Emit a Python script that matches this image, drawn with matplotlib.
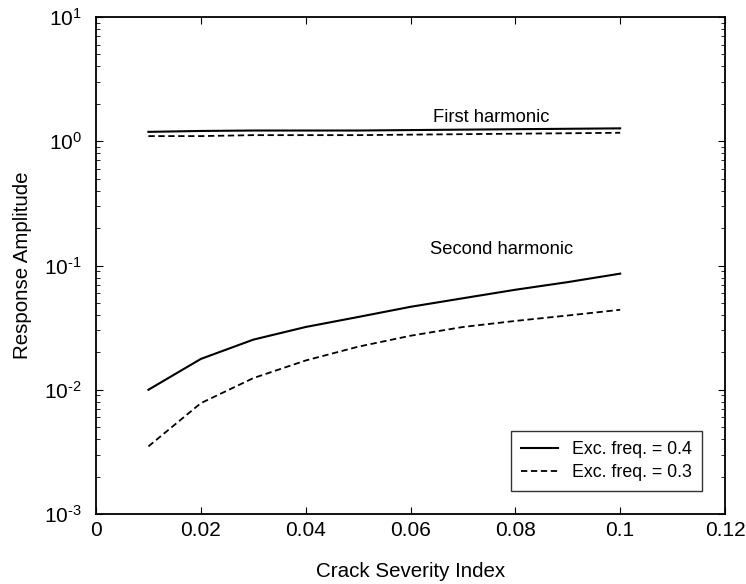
import numpy as np
import matplotlib
matplotlib.use("Agg")
import matplotlib.pyplot as plt
from matplotlib.ticker import FixedLocator, FixedFormatter

plt.rcParams['font.family'] = ['Liberation Sans', 'DejaVu Sans']
plt.rcParams['mathtext.fontset'] = 'custom'
plt.rcParams['mathtext.rm'] = 'Liberation Sans'
plt.rcParams['mathtext.it'] = 'Liberation Sans:italic'

# %% Data

crack = [0.01, 0.02, 0.03, 0.04, 0.05, 0.06, 0.07, 0.08, 0.09, 0.1]

first_04 = [1.19, 1.21, 1.22, 1.22, 1.22, 1.23, 1.24, 1.25, 1.26, 1.27]
first_03 = [1.10, 1.10, 1.12, 1.12, 1.12, 1.13, 1.14, 1.15, 1.16, 1.17]

second_04 = [0.0100, 0.0177, 0.0253, 0.0320, 0.0385, 0.0465, 0.0545, 0.0638, 0.0735, 0.0860]
second_03 = [0.0035, 0.0078, 0.0124, 0.0172, 0.0222, 0.0272, 0.0320, 0.0358, 0.0396, 0.0440]

labels = ["Exc. freq. = 0.4", "Exc. freq. = 0.3"]
xticks = [0, 0.02, 0.04, 0.06, 0.08, 0.1, 0.12]
xticklabels = ["0", "0.02", "0.04", "0.06", "0.08", "0.1", "0.12"]
yticks = [1e-3, 1e-2, 1e-1, 1e0, 1e1]
yticklabels = [r"$10^{\text{-3}}$", r"$10^{\text{-2}}$", r"$10^{\text{-1}}$",
               r"$10^{0}$", r"$10^{1}$"]

# %% Plot

fig = plt.figure(figsize=(7.46, 5.84), dpi=100)
ax = fig.add_axes([96/746, 1 - 514/584, (725-96)/746, (514-17)/584])

l1, = ax.plot(crack, first_04, "-", color="black", lw=1.5)
l2, = ax.plot(crack, first_03, "--", color="black", lw=1.3, dashes=(3.5, 2))
ax.plot(crack, second_04, "-", color="black", lw=1.5)
ax.plot(crack, second_03, "--", color="black", lw=1.3, dashes=(3.5, 2))

ax.set_yscale("log")
ax.set_xlim(0, 0.12)
ax.set_ylim(1e-3, 1e1)
ax.set_xticks(xticks)
ax.set_xticklabels(xticklabels)
ax.yaxis.set_major_locator(FixedLocator(yticks))
ax.yaxis.set_major_formatter(FixedFormatter(yticklabels))

ax.tick_params(axis="both", which="both", direction="in", top=True, right=True,
               labelsize=15, colors="black")
ax.tick_params(axis="x", which="major", length=5, pad=5)
ax.tick_params(axis="y", which="major", length=5, pad=10)
ax.tick_params(axis="y", which="minor", length=3)
for s in ax.spines.values():
    s.set_linewidth(1.3)

ax.set_xlabel("Crack Severity Index", fontsize=14.8, labelpad=16)
ax.set_ylabel("Response Amplitude", fontsize=14.8, labelpad=9)

ax.text(0.0754, 1.56, "First harmonic", fontsize=13.2, ha="center", va="center")
ax.text(0.0773, 0.134, "Second harmonic", fontsize=13.2, ha="center", va="center")

leg = ax.legend([l1, l2], labels, loc="lower right", fontsize=12.8,
                frameon=True, fancybox=False, edgecolor="black",
                borderaxespad=1.3, handlelength=2.1, borderpad=0.55,
                labelspacing=0.35)
leg.get_frame().set_linewidth(1.0)

fig.savefig("out.png", dpi=100)
